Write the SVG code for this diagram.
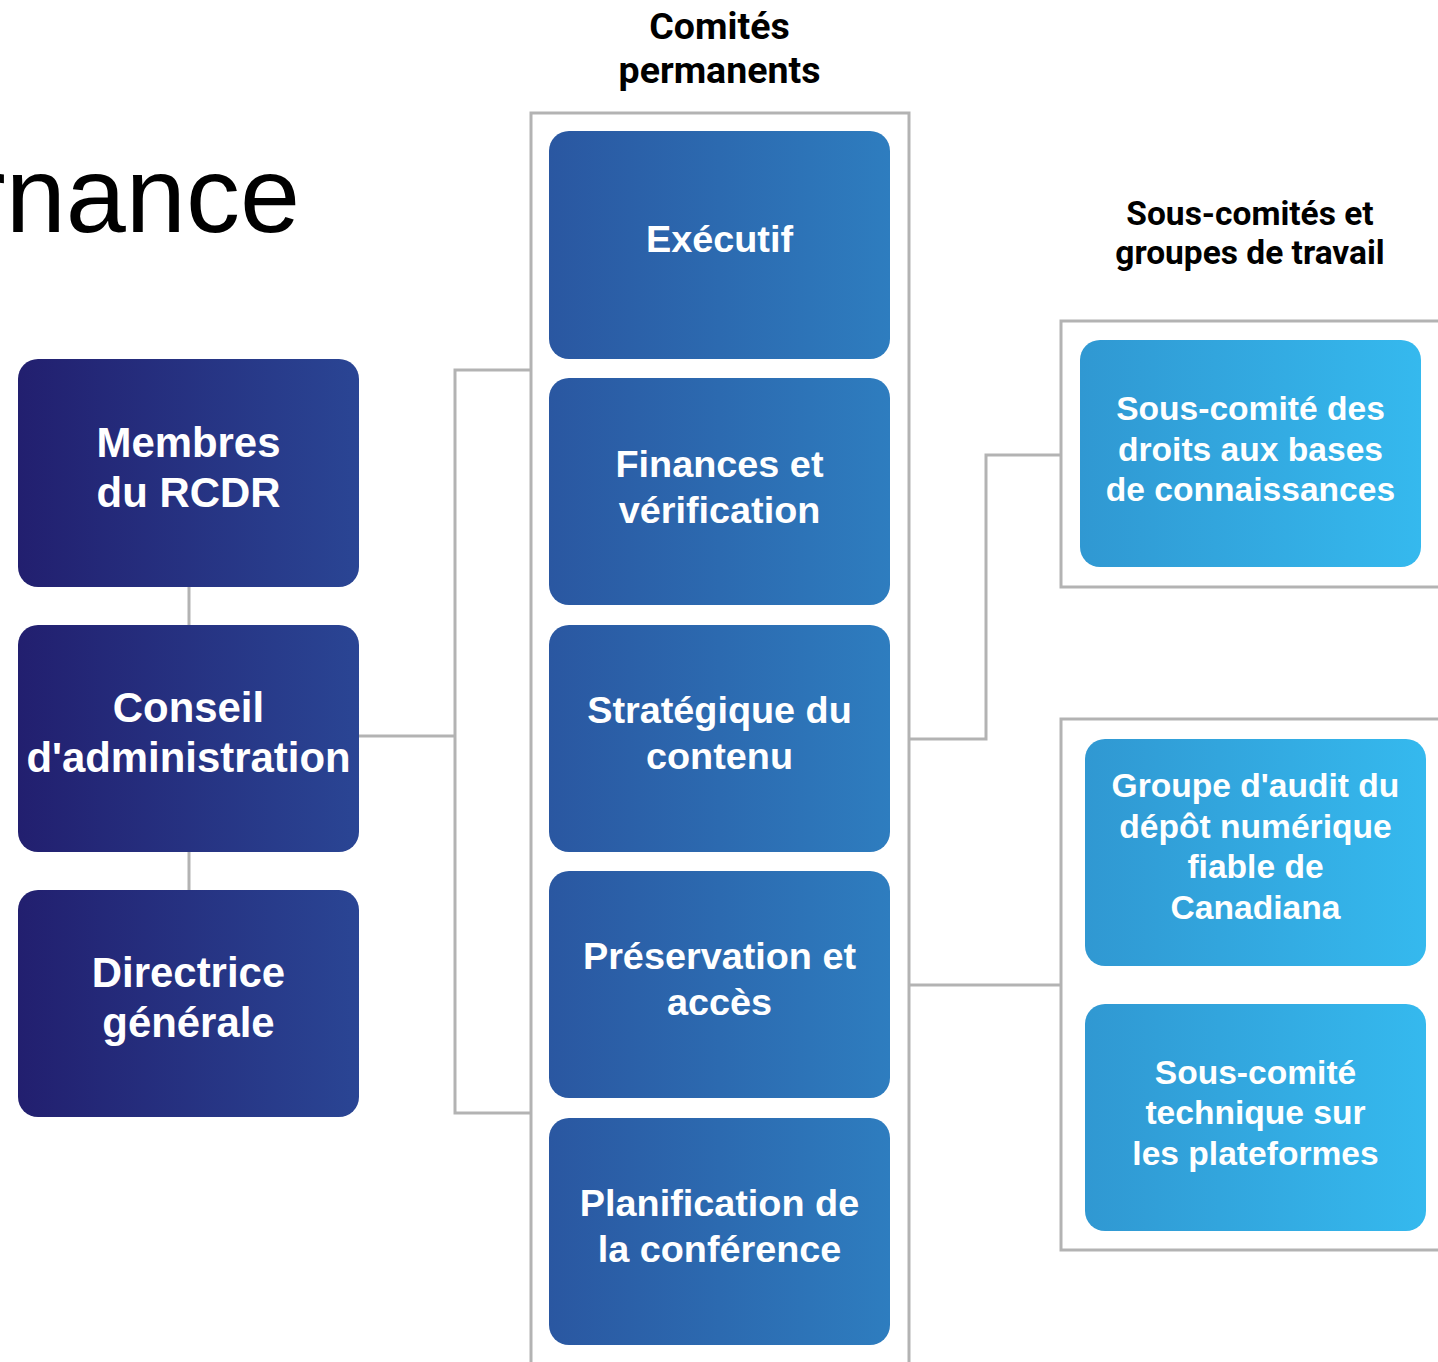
<svg xmlns="http://www.w3.org/2000/svg" width="1438" height="1362" viewBox="0 0 1438 1362">
<defs>
<linearGradient id="gNavy" x1="0" y1="0" x2="1" y2="0">
<stop offset="0" stop-color="#221f6f"/>
<stop offset="1" stop-color="#2a4594"/>
</linearGradient>
<linearGradient id="gMid" x1="0" y1="0" x2="1" y2="0">
<stop offset="0" stop-color="#2a57a1"/>
<stop offset="1" stop-color="#2e7dbf"/>
</linearGradient>
<linearGradient id="gSky" x1="0" y1="0" x2="1" y2="0">
<stop offset="0" stop-color="#3098d2"/>
<stop offset="1" stop-color="#35b9ee"/>
</linearGradient>
</defs>
<style>
.line{fill:none;stroke:#b3b3b3;stroke-width:3}
.frame{fill:none;stroke:#b3b3b3;stroke-width:3}
.lbl{fill:#ffffff;font-family:"Liberation Sans",Arial,sans-serif;font-weight:bold;text-anchor:middle}
.l1{font-size:41.9px}
.l2{font-size:37.8px}
.l3{font-size:33.6px}
.hdr{fill:#000000;font-family:Roboto,"Liberation Sans",sans-serif;font-weight:bold;text-anchor:middle}
</style>
<rect width="1438" height="1362" fill="#ffffff"/>

<text x="300" y="232" font-family="Liberation Sans, Arial, sans-serif" font-size="108" text-anchor="end" fill="#000000">rnance</text>

<g id="header-comites">
<text class="hdr" x="719.5" y="39" font-size="37.5">Comités</text>
<text class="hdr" x="719.5" y="83" font-size="37.5">permanents</text>
</g>
<g id="header-souscomites">
<text class="hdr" x="1250" y="225" font-size="33.5">Sous-comités et</text>
<text class="hdr" x="1250" y="264" font-size="33.5">groupes de travail</text>
</g>

<g id="frames">
<rect class="frame" x="531" y="113" width="378" height="1300"/>
<rect class="frame" x="1061" y="321" width="420" height="266"/>
<rect class="frame" x="1061" y="719" width="420" height="531"/>
</g>

<g id="connectors">
<line class="line" x1="189" y1="587" x2="189" y2="625"/>
<line class="line" x1="189" y1="852" x2="189" y2="890"/>
<line class="line" x1="359" y1="736" x2="455" y2="736"/>
<polyline class="line" points="531,370 455,370 455,1113 531,1113"/>
<polyline class="line" points="909,739 986,739 986,455 1061,455"/>
<line class="line" x1="909" y1="985" x2="1061" y2="985"/>
</g>

<g id="membres">
<rect x="18" y="359" width="341" height="228" rx="20" fill="url(#gNavy)"/>
<text class="lbl l1" x="188.5" y="456.7">Membres</text>
<text class="lbl l1" x="188.5" y="506.7">du RCDR</text>
</g>
<g id="conseil">
<rect x="18" y="625" width="341" height="227" rx="20" fill="url(#gNavy)"/>
<text class="lbl l1" x="188.5" y="722.2">Conseil</text>
<text class="lbl l1" x="188.5" y="772.2">d'administration</text>
</g>
<g id="directrice">
<rect x="18" y="890" width="341" height="227" rx="20" fill="url(#gNavy)"/>
<text class="lbl l1" x="188.5" y="987.2">Directrice</text>
<text class="lbl l1" x="188.5" y="1037.2">générale</text>
</g>

<g id="executif">
<rect x="549" y="131" width="341" height="228" rx="20" fill="url(#gMid)"/>
<text class="lbl l2" x="719.5" y="252.4">Exécutif</text>
</g>
<g id="finances">
<rect x="549" y="378" width="341" height="227" rx="20" fill="url(#gMid)"/>
<text class="lbl l2" x="719.5" y="476.5">Finances et</text>
<text class="lbl l2" x="719.5" y="522.5">vérification</text>
</g>
<g id="strategique">
<rect x="549" y="625" width="341" height="227" rx="20" fill="url(#gMid)"/>
<text class="lbl l2" x="719.5" y="722.9">Stratégique du</text>
<text class="lbl l2" x="719.5" y="768.9">contenu</text>
</g>
<g id="preservation">
<rect x="549" y="871" width="341" height="227" rx="20" fill="url(#gMid)"/>
<text class="lbl l2" x="719.5" y="968.9">Préservation et</text>
<text class="lbl l2" x="719.5" y="1014.9">accès</text>
</g>
<g id="planification">
<rect x="549" y="1118" width="341" height="227" rx="20" fill="url(#gMid)"/>
<text class="lbl l2" x="719.5" y="1216">Planification de</text>
<text class="lbl l2" x="719.5" y="1262">la conférence</text>
</g>

<g id="droits">
<rect x="1080" y="340" width="341" height="227" rx="20" fill="url(#gSky)"/>
<text class="lbl l3" x="1250.5" y="420">Sous-comité des</text>
<text class="lbl l3" x="1250.5" y="460.5">droits aux bases</text>
<text class="lbl l3" x="1250.5" y="501">de connaissances</text>
</g>
<g id="audit">
<rect x="1085" y="739" width="341" height="227" rx="20" fill="url(#gSky)"/>
<text class="lbl l3" x="1255.5" y="797.3">Groupe d'audit du</text>
<text class="lbl l3" x="1255.5" y="837.8">dépôt numérique</text>
<text class="lbl l3" x="1255.5" y="878.3">fiable de</text>
<text class="lbl l3" x="1255.5" y="918.8">Canadiana</text>
</g>
<g id="technique">
<rect x="1085" y="1004" width="341" height="227" rx="20" fill="url(#gSky)"/>
<text class="lbl l3" x="1255.5" y="1083.5">Sous-comité</text>
<text class="lbl l3" x="1255.5" y="1124">technique sur</text>
<text class="lbl l3" x="1255.5" y="1164.5">les plateformes</text>
</g>
</svg>
